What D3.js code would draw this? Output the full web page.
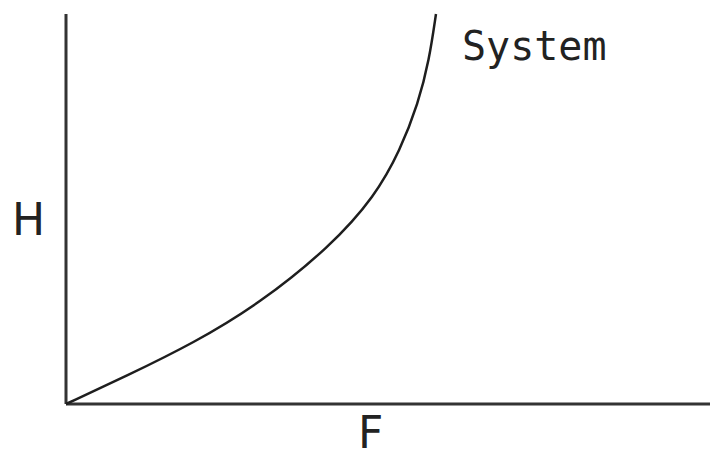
<!DOCTYPE html>
<html>
<head>
<meta charset="utf-8">
<script src="https://cdn.jsdelivr.net/npm/d3@7"></script>
<style>
  body { margin: 0; background: #fff; }
</style>
</head>
<body>
<svg id="canvas" width="710" height="451"></svg>
<script>
// system curve (F, H in arbitrary units)
const flow = [0, 9.4, 19.8, 30.1, 41.0, 48.0, 51.9, 54.7, 56.4, 57.45];
const head = [0, 7.2, 15.6, 25.8, 40.3, 53.3, 65.1, 77.1, 88.2, 100];
const seriesLabel = 'System';
const xLabel = 'F';
const yLabel = 'H';

const svg = d3.select('#canvas');
const x = d3.scaleLinear().domain([0, 100]).range([66, 710]);
const y = d3.scaleLinear().domain([0, 100]).range([404, 14]);

// axes as plain lines
svg.append('line')
    .attr('x1', x(0)).attr('x2', x(0))
    .attr('y1', y(0)).attr('y2', y(100))
    .attr('stroke', '#333').attr('stroke-width', 3);
svg.append('line')
    .attr('x1', x(0)).attr('x2', x(100))
    .attr('y1', y(0)).attr('y2', y(0))
    .attr('stroke', '#333').attr('stroke-width', 3);

const line = d3.line()
    .x((d, i) => x(d))
    .y((d, i) => y(head[i]))
    .curve(d3.curveBasis);

svg.append('path')
    .datum(flow)
    .attr('d', line)
    .attr('fill', 'none')
    .attr('stroke', '#1e1e1e')
    .attr('stroke-width', 2.5);

svg.append('text')
    .attr('x', 462).attr('y', 60)
    .style('font-family', '"DejaVu Sans Mono", monospace')
    .style('font-size', '40px')
    .style('fill', '#222')
    .text(seriesLabel);

svg.append('text')
    .attr('x', 12).attr('y', 235)
    .style('font-family', '"DejaVu Sans", sans-serif')
    .style('font-size', '44px')
    .style('fill', '#222')
    .text(yLabel);

svg.append('text')
    .attr('x', 358).attr('y', 448)
    .style('font-family', '"DejaVu Sans", sans-serif')
    .style('font-size', '44px')
    .style('fill', '#222')
    .text(xLabel);
</script>
</body>
</html>
